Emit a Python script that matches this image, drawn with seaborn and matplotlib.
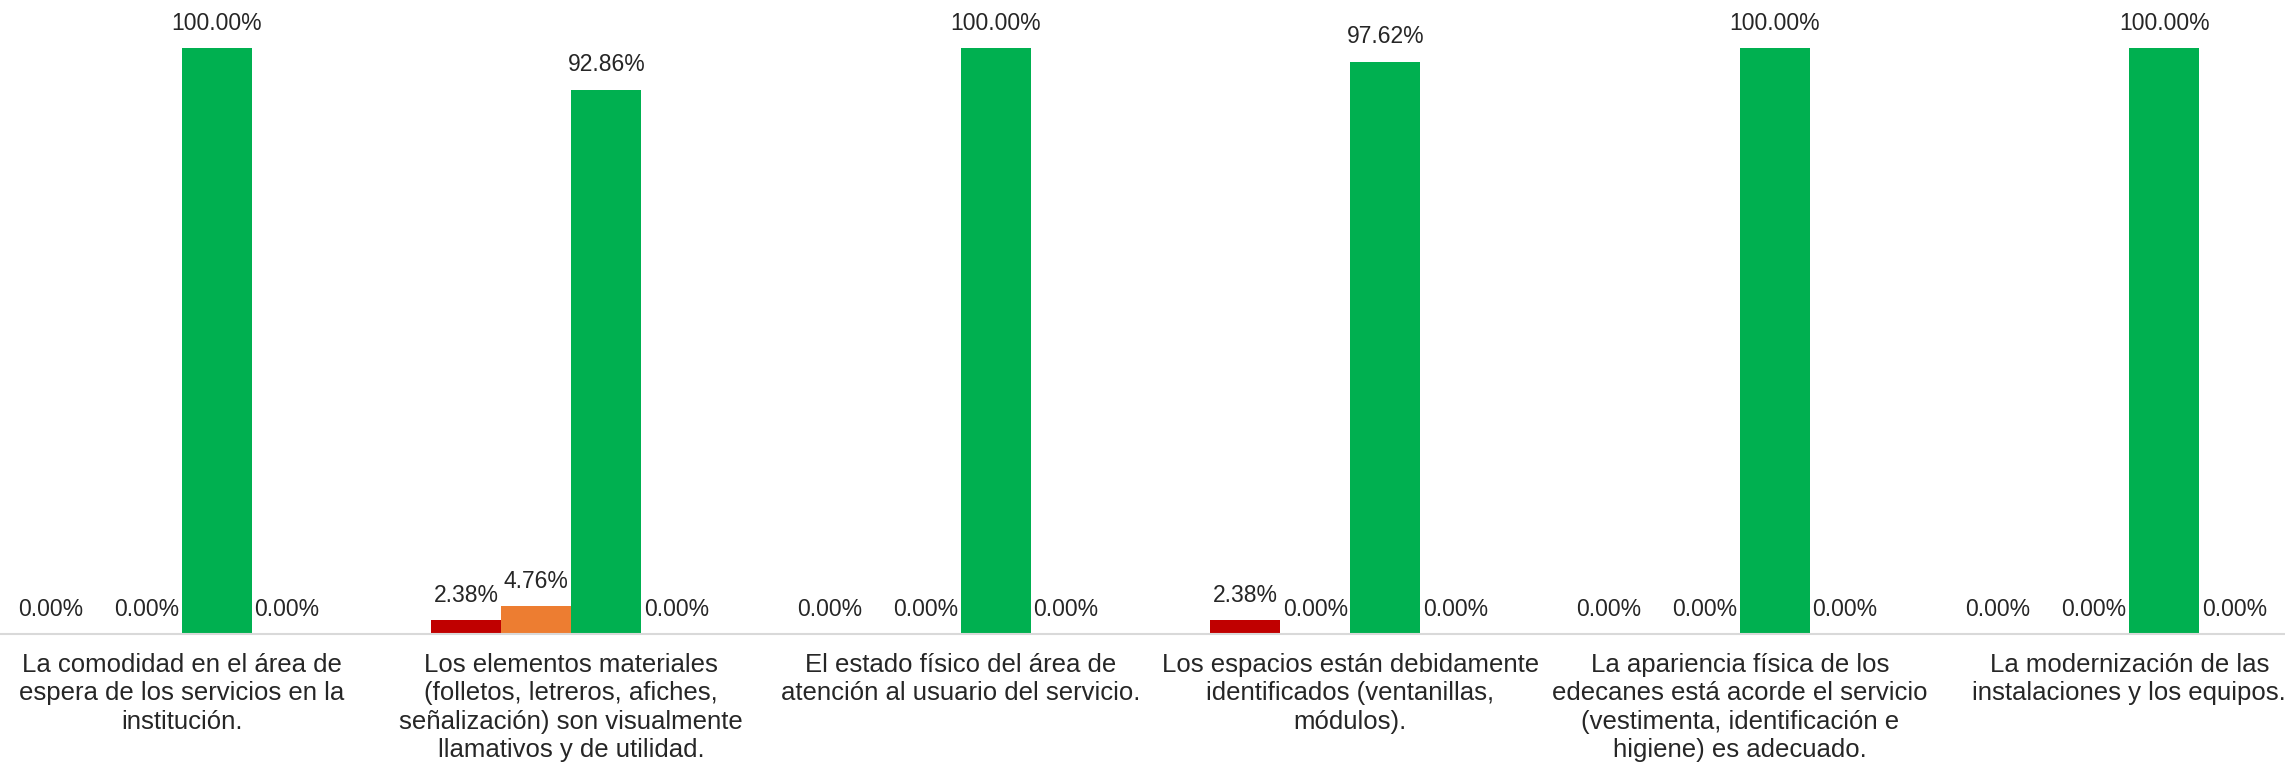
import matplotlib
matplotlib.use("Agg")
import matplotlib.pyplot as plt
import seaborn as sns
import pandas as pd

categorias = [
    "La comodidad en el área de\nespera de los servicios en la\ninstitución.",
    "Los elementos materiales\n(folletos, letreros, afiches,\nseñalización) son visualmente\nllamativos y de utilidad.",
    "El estado físico del área de\natención al usuario del servicio.",
    "Los espacios están debidamente\nidentificados (ventanillas,\nmódulos).",
    "La apariencia física de los\nedecanes está acorde el servicio\n(vestimenta, identificación e\nhigiene) es adecuado.",
    "La modernización de las\ninstalaciones y los equipos.",
]
series = ["Malo", "Regular", "Bueno", "No responde"]
malo = [0.00, 2.38, 0.00, 2.38, 0.00, 0.00]
regular = [0.00, 4.76, 0.00, 0.00, 0.00, 0.00]
bueno = [100.00, 92.86, 100.00, 97.62, 100.00, 100.00]
no_responde = [0.00, 0.00, 0.00, 0.00, 0.00, 0.00]
colores = ["#C00000", "#ED7D31", "#00B050", "#A5A5A5"]

df = pd.DataFrame({
    "categoria": categorias * 4,
    "serie": [s for s in series for _ in categorias],
    "valor": malo + regular + bueno + no_responde,
})

sns.set_theme(style="white")
plt.rcParams["font.family"] = ["Liberation Sans", "DejaVu Sans"]
txt_color = "#262626"

fig = plt.figure(figsize=(22.85, 7.66), dpi=100)
ax = fig.add_axes([0, 0.1723, 1, 0.7650])

sns.barplot(data=df, x="categoria", y="valor", hue="serie", order=categorias,
            hue_order=series, palette=colores, width=0.72, dodge=True,
            legend=False, ax=ax, saturation=1, errorbar=None,
            edgecolor="none", linewidth=0)

for i, cont in enumerate(ax.containers):
    for bar in cont:
        h = bar.get_height()
        # empty bars of the first series carry their label a bit to the left
        dx = -19 if (i == 0 and h == 0) else 0
        ax.annotate(f"{h:.2f}%", (bar.get_x() + bar.get_width() / 2, h),
                    xytext=(dx, 18), textcoords="offset points",
                    ha="center", va="center", fontsize=16.5, color=txt_color)

ax.set_xlim(-0.467, 5.40)
ax.set_ylim(0, 100)
ax.set_xlabel("")
ax.set_ylabel("")
ax.set_yticks([])
for s in ["top", "right", "left"]:
    ax.spines[s].set_visible(False)
ax.spines["bottom"].set_color("#D9D9D9")
ax.spines["bottom"].set_linewidth(1.5)
ax.tick_params(axis="x", length=0, pad=13.5)
for lbl in ax.get_xticklabels():
    lbl.set_fontsize(18.5)
    lbl.set_color(txt_color)
    lbl.set_linespacing(1.24)
    lbl.set_horizontalalignment("center")

fig.savefig("out.png", dpi=100)
